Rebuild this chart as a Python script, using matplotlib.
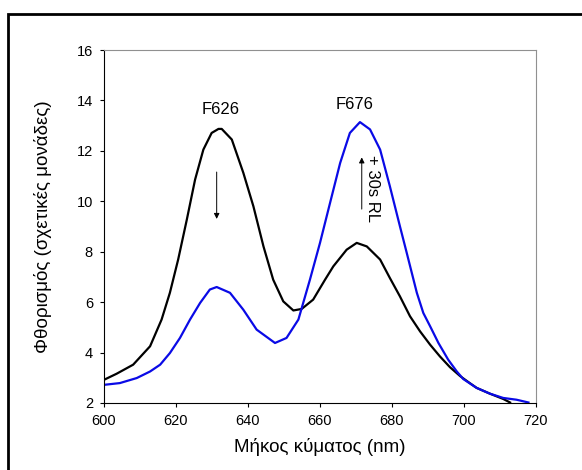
import numpy as np
import matplotlib
matplotlib.use("Agg")
import matplotlib.pyplot as plt
from matplotlib.patches import Rectangle

plt.rcParams['font.family'] = ['Liberation Sans', 'DejaVu Sans']

# black curve (before)
black_x = [600.0, 603.5, 608.1, 612.8, 616.0, 618.3, 620.6, 623.0, 625.3, 627.6, 629.9, 631.8,
           632.7, 635.5, 638.7, 641.5, 644.3, 647.0, 649.8, 652.6, 654.9, 658.1, 661.4,
           663.7, 667.4, 670.2, 673.0, 676.7, 679.4, 682.2, 685.0, 687.8, 690.6, 693.3,
           696.1, 698.9, 701.5, 703.5, 707.2, 710.9, 712.8]
black_y = [2.92, 3.16, 3.52, 4.25, 5.31, 6.37, 7.69, 9.27, 10.86, 12.05, 12.71, 12.87,
           12.87, 12.45, 11.13, 9.80, 8.21, 6.89, 6.03, 5.67, 5.73, 6.10, 6.89,
           7.42, 8.08, 8.35, 8.21, 7.69, 6.96, 6.23, 5.44, 4.84, 4.31, 3.85,
           3.42, 3.07, 2.80, 2.60, 2.37, 2.16, 2.02]

# blue curve (+30s RL)
blue_x = [600.0, 604.4, 609.1, 612.8, 615.6, 618.3, 621.1, 623.9, 626.7, 629.4, 631.3,
          635.0, 638.7, 642.4, 647.5, 650.7, 654.0, 657.2, 660.0, 662.8, 665.6, 668.3,
          671.1, 673.9, 676.7, 679.4, 682.2, 684.1, 685.5, 686.9, 688.7, 690.6, 692.9,
          695.6, 698.0, 699.8, 703.5, 707.2, 710.9, 714.6, 717.9]
blue_y = [2.72, 2.79, 2.99, 3.25, 3.52, 3.98, 4.58, 5.31, 5.97, 6.50, 6.60,
          6.37, 5.70, 4.91, 4.38, 4.58, 5.31, 6.89, 8.35, 9.94, 11.52, 12.71,
          13.14, 12.85, 12.05, 10.60, 9.01, 7.95, 7.16, 6.37, 5.57, 5.04, 4.38,
          3.72, 3.25, 2.95, 2.60, 2.37, 2.20, 2.13, 2.02]

xticks = [600, 620, 640, 660, 680, 700, 720]
yticks = [2, 4, 6, 8, 10, 12, 14, 16]

fig = plt.figure(figsize=(5.82, 4.70), dpi=100)
ax = fig.add_axes([104 / 582, 1 - 403 / 470, 432 / 582, 353 / 470])

ax.plot(black_x, black_y, color="black", lw=1.6, solid_joinstyle="round")
ax.plot(blue_x, blue_y, color="#0a0ae6", lw=1.6, solid_joinstyle="round")

ax.set_xlim(600, 720)
ax.set_ylim(2, 16)
ax.set_xticks(xticks)
ax.set_yticks(yticks)
ax.tick_params(direction="out", length=3, width=0.8, pad=5, labelsize=10.5)
for s in ["top", "right"]:
    ax.spines[s].set_color("#909090")
for s in ["left", "bottom"]:
    ax.spines[s].set_color("black")

ax.set_xlabel("Μήκος κύματος (nm)", fontsize=13.5, labelpad=7)
ax.set_ylabel("Φθορισμός (σχετικές μονάδες)", fontsize=13.5, labelpad=18)

ax.text(632.5, 13.65, "F626", ha="center", va="center", fontsize=12)
ax.text(669.6, 13.85, "F676", ha="center", va="center", fontsize=12)
ax.annotate("", xy=(631.3, 9.19), xytext=(631.3, 11.27),
            arrowprops=dict(arrowstyle="-|>", color="black", lw=0.7, mutation_scale=8))
ax.annotate("", xy=(671.6, 11.85), xytext=(671.6, 9.58),
            arrowprops=dict(arrowstyle="-|>", color="black", lw=0.7, mutation_scale=8))
ax.text(674.6, 10.5, "+ 30s RL", rotation=-90, ha="center", va="center", fontsize=12)

fig.patches.append(Rectangle((8 / 582, -0.1), 1.2, 1 - 14 / 470 + 0.1, transform=fig.transFigure,
                             fill=False, edgecolor="black", lw=2))

fig.savefig("out.png", dpi=100)
